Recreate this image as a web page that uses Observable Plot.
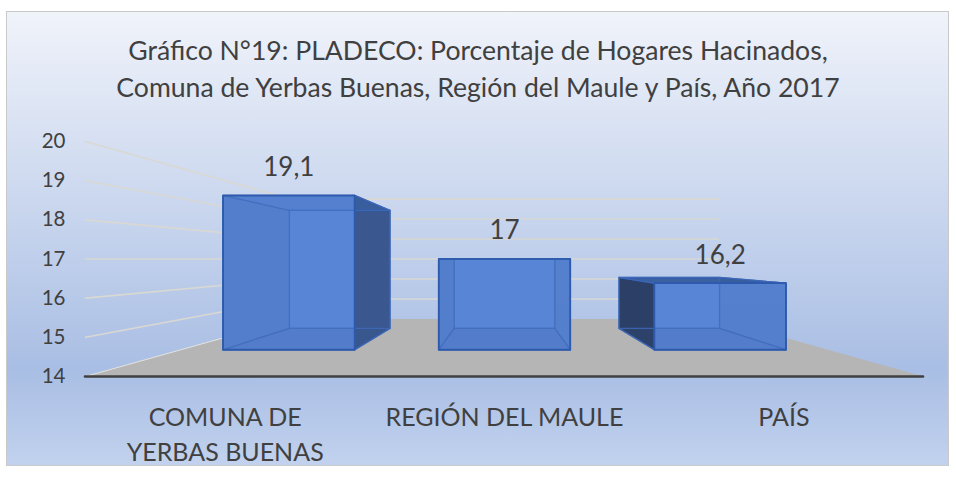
<!DOCTYPE html>
<html lang="es">
<head>
<meta charset="utf-8">
<script src="https://cdn.jsdelivr.net/npm/d3@7"></script>
<script src="https://cdn.jsdelivr.net/npm/@observablehq/plot@0.6"></script>
<style>
  html, body { margin: 0; background: #fff; }
  #panel { position: absolute; left: 6px; top: 11px; width: 943px; height: 455px; box-sizing: border-box;
    border: 1.5px solid #c9c9c9;
    background: linear-gradient(180deg, #f0f3fa 0%, #a9bee4 79%, #c2d2ee 100%); }
  #title { position: absolute; left: 0; top: 32px; width: 956px; text-align: center; color: #404040;
    font: 26.6px/37px Lato, sans-serif; }
  #chart { position: absolute; left: 0; top: 120px; }
  #chart svg { display: block; }
</style>
</head>
<body>
<div id="panel"></div>
<div id="title">Gráfico N°19: PLADECO: Porcentaje de Hogares Hacinados,<br>Comuna de Yerbas Buenas, Región del Maule y País, Año 2017</div>
<div id="chart"></div>
<script>
const categories = ["COMUNA DE\nYERBAS BUENAS", "REGIÓN DEL MAULE", "PAÍS"];
const values = [19.1, 17, 16.2];
const valueLabels = ["19,1", "17", "16,2"];
const yTicks = [14, 15, 16, 17, 18, 19, 20];

// Perspective of the 3-D chart box: a point at depth s (1 = front edge) is pulled
// towards the vanishing point, expressed in the chart's own units.
const vanishU = 0.5, vanishV = 17;
const wallDepth = 0.51, barNear = 0.772, barFar = 0.59, barHalf = 0.1017;
const centers = categories.map((_, i) => (i + 0.5) / categories.length);
const px = (u, s) => vanishU + (u - vanishU) * s;
const py = (v, s) => vanishV + (v - vanishV) * s;
const pt = (u, v, s) => ({x: px(u, s), y: py(v, s)});
const poly = (id, pts) => [...pts, pts[0]].map(p => ({...p, id}));

const floor = poly("floor", [pt(0, 14, 1), pt(1, 14, 1), pt(1, 14, wallDepth), pt(0, 14, wallDepth)]);
const grid = yTicks.filter(t => t > 14).flatMap(t => [
  {...pt(0, t, 1), id: t}, {...pt(0, t, wallDepth), id: t}, {...pt(1, t, wallDepth), id: t}
]);

const boxes = values.map((v, i) => {
  const a = centers[i] - barHalf, b = centers[i] + barHalf, n = barNear, f = barFar, k = `b${i}`;
  return {
    back:   poly(k + "back",   [pt(a, 14, f), pt(b, 14, f), pt(b, v, f), pt(a, v, f)]),
    bottom: poly(k + "bottom", [pt(a, 14, n), pt(b, 14, n), pt(b, 14, f), pt(a, 14, f)]),
    left:   poly(k + "left",   [pt(a, 14, n), pt(a, 14, f), pt(a, v, f), pt(a, v, n)]),
    right:  poly(k + "right",  [pt(b, 14, n), pt(b, 14, f), pt(b, v, f), pt(b, v, n)]),
    top:    poly(k + "top",    [pt(a, v, n), pt(b, v, n), pt(b, v, f), pt(a, v, f)]),
    front:  poly(k + "front",  [pt(a, 14, n), pt(b, 14, n), pt(b, v, n), pt(a, v, n)])
  };
});
const faces = name => boxes.flatMap(b => b[name]);
const edge = "#2d5aac";
const face = (name, fill, fillOpacity, strokeOpacity = 1) => Plot.line(faces(name), {
  x: "x", y: "y", z: "id", curve: "linear", fill, fillOpacity,
  stroke: edge, strokeWidth: 1.4, strokeOpacity, strokeLinejoin: "round"
});
const tint = (name, opacity) => Plot.line(faces(name), {
  x: "x", y: "y", z: "id", curve: "linear", fill: "#38588f", fillOpacity: opacity,
  stroke: "#3f6cbc", strokeWidth: 1.2, strokeOpacity: 0.55
});

const labels = values.map((v, i) => ({x: px(centers[i], barNear), y: py(v, barNear), t: valueLabels[i]}));

const plot = Plot.plot({
  width: 956, height: 360,
  marginLeft: 85, marginRight: 33, marginTop: 21, marginBottom: 104,
  style: {background: "transparent", fontFamily: "Lato, sans-serif"},
  x: {domain: [0, 1]},
  y: {domain: [14, 20]},
  marks: [
    Plot.line(floor, {x: "x", y: "y", z: "id", curve: "linear", fill: "#b5b5b5", stroke: "none"}),
    Plot.line(grid, {x: "x", y: "y", z: "id", curve: "linear", stroke: "#d9d8d2", strokeWidth: 1.6}),
    Plot.line(floor.slice(3, 5), {x: "x", y: "y", curve: "linear", stroke: "#e4e4e0", strokeWidth: 1}),
    face("back", "#5583d4", 0.9, 0.6),
    face("bottom", "#4d72b8", 0.92, 0.6),
    face("left", "#2a3c60", 0.97, 0.5),
    face("right", "#3a588d", 0.97, 0.5),
    face("top", "#3a60a2", 0.95, 0.7),
    face("front", "#5985d6", 0.95),
    // far faces seen through the translucent front, as faint tints
    tint("left", 0.06),
    tint("right", 0.06),
    tint("top", 0.06),
    tint("bottom", 0.14),
    tint("back", 0),
    Plot.line(faces("front"), {x: "x", y: "y", z: "id", curve: "linear", stroke: edge, strokeWidth: 1.7}),
    Plot.ruleY([14], {stroke: "#404040", strokeWidth: 2.6, strokeLinecap: "round"}),
    Plot.text(labels, {x: "x", y: "y", text: "t", dy: -28, fontSize: 26, fill: "#404040"}),
    Plot.axisY({ticks: yTicks, tickSize: 0, tickPadding: 20, fontSize: 20.5, color: "#404040", label: null, tickFormat: d => String(d)}),
    Plot.axisX({
      ticks: centers, tickSize: 0, tickPadding: 0, fontSize: 25, lineHeight: 1.4, color: "#404040", label: null,
      textAnchor: "middle", lineAnchor: "top", dy: 25,
      tickFormat: d => categories[centers.indexOf(d)]
    })
  ]
});
document.getElementById("chart").append(plot);
</script>
</body>
</html>
